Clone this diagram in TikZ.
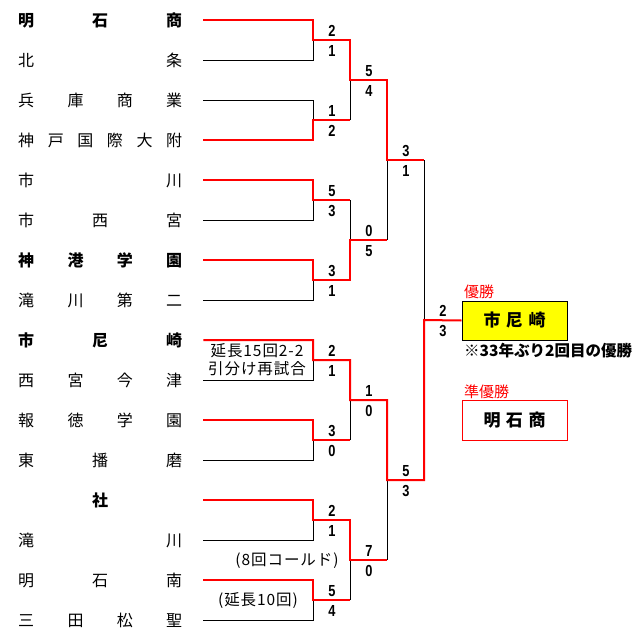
\documentclass[tikz,border=0pt]{standalone}
\usepackage{fontspec}
\setmainfont{Noto Sans CJK JP}
\newfontfamily\scorefont{Liberation Sans}[FakeStretch=0.8]
\usepackage{tikz}
\usetikzlibrary{positioning}
\definecolor{winred}{HTML}{FF0000}
\definecolor{champyellow}{HTML}{FFFF00}
\newcommand{\spread}[1]{\makebox[164pt][s]{#1}}
\newcommand{\boxname}[1]{\makebox[62pt][s]{#1}}
\tikzset{
  team/.style={anchor=west,inner sep=0pt,font=\fontsize{16}{16}\selectfont},
  winteam/.style={team,font=\fontsize{16}{16}\selectfont\bfseries},
  score/.style={inner sep=0pt,font=\scorefont\bfseries\fontsize{16}{16}\selectfont},
  note/.style={inner sep=0pt,align=center,font=\addfontfeature{LetterSpace=6}\fontsize{15.5}{18}\selectfont},
  medal/.style={anchor=west,inner sep=0pt,text=winred,font=\fontsize{15}{15}\selectfont},
  winline/.style={draw=winred,line width=2pt},
  loseline/.style={draw=black,line width=1pt},
  champbox/.style={draw=black,fill=champyellow,line width=1pt,
                   minimum width=105pt,minimum height=39pt,inner sep=0pt,
                   font=\fontsize{17}{17}\selectfont\bfseries},
  runbox/.style={draw=winred,fill=white,line width=1pt,
                 minimum width=105pt,minimum height=40pt,inner sep=0pt,
                 font=\fontsize{17}{17}\selectfont\bfseries}
}

\begin{document}
\begin{tikzpicture}[x=1pt,y=-1pt]
  \useasboundingbox (0,0) rectangle (632,641);

  % teams
  \node[winteam] (n1) at (18,20) {\spread{明\hfill 石\hfill 商}};
  \node[team] (n2) at (18,60) {\spread{北\hfill 条}};
  \node[team] (n3) at (18,100) {\spread{兵\hfill 庫\hfill 商\hfill 業}};
  \node[team] (n4) at (18,140) {\spread{神\hfill 戸\hfill 国\hfill 際\hfill 大\hfill 附}};
  \node[team] (n5) at (18,180) {\spread{市\hfill 川}};
  \node[team] (n6) at (18,220) {\spread{市\hfill 西\hfill 宮}};
  \node[winteam] (n7) at (18,260) {\spread{神\hfill 港\hfill 学\hfill 園}};
  \node[team] (n8) at (18,300) {\spread{滝\hfill 川\hfill 第\hfill 二}};
  \node[winteam] (n9) at (18,340) {\spread{市\hfill 尼\hfill 崎}};
  \node[team] (n10) at (18,380) {\spread{西\hfill 宮\hfill 今\hfill 津}};
  \node[team] (n11) at (18,420) {\spread{報\hfill 徳\hfill 学\hfill 園}};
  \node[team] (n12) at (18,460) {\spread{東\hfill 播\hfill 磨}};
  \node[winteam] (n13) at (18,500) {\makebox[164pt]{社}};
  \node[team] (n14) at (18,540) {\spread{滝\hfill 川}};
  \node[team] (n15) at (18,580) {\spread{明\hfill 石\hfill 南}};
  \node[team] (n16) at (18,620) {\spread{三\hfill 田\hfill 松\hfill 聖}};

  % match points
  \coordinate (m1) at (313,40);
  \coordinate (m2) at (313,120);
  \coordinate (m3) at (313,200);
  \coordinate (m4) at (313,280);
  \coordinate (m5) at (313,360);
  \coordinate (m6) at (313,440);
  \coordinate (m7) at (313,520);
  \coordinate (m8) at (313,600);
  \coordinate (q1) at (350,80);
  \coordinate (q2) at (350,240);
  \coordinate (q3) at (350,400);
  \coordinate (q4) at (350,560);
  \coordinate (s1) at (387,160);
  \coordinate (s2) at (387,480);
  \coordinate (fin) at (424,320);

  % result boxes
  \node[medal] (winlab) at (464,292) {優勝};
  \node[champbox] (champ) at (514.5,320.5) {\boxname{市\hfill 尼\hfill 崎}};
  \node[medal,text=black,font=\fontsize{15.5}{16}\selectfont\bfseries] (remark) at (464,351) {※33年ぶり2回目の優勝};
  \node[medal] (runlab) at (464,392) {準優勝};
  \node[runbox] (runner) at (514.5,420) {\boxname{明\hfill 石\hfill 商}};

  % losers
  \draw[loseline] ([xshift=21pt]n2.east) -| (m1);
  \draw[loseline] ([xshift=21pt]n3.east) -| (m2);
  \draw[loseline] ([xshift=21pt]n6.east) -| (m3);
  \draw[loseline] ([xshift=21pt]n8.east) -| (m4);
  \draw[loseline] ([xshift=21pt]n10.east) -| (m5);
  \draw[loseline] ([xshift=21pt]n12.east) -| (m6);
  \draw[loseline] ([xshift=21pt]n14.east) -| (m7);
  \draw[loseline] ([xshift=21pt]n16.east) -| (m8);
  \draw[loseline] (q1 |- m2) -- (q1);
  \draw[loseline] (q2 |- m3) -- (q2);
  \draw[loseline] (q3 |- m6) -- (q3);
  \draw[loseline] (q4 |- m8) -- (q4);
  \draw[loseline] (s1 |- q2) -- (s1);
  \draw[loseline] (s2 |- q4) -- (s2);
  \draw[loseline] (fin |- s1) -- (fin);

  % winners
  \draw[winline] ([xshift=21pt]n1.east) -| (m1) -- (q1 |- m1) -- (q1) -- (s1 |- q1) -- (s1) -- (fin |- s1);
  \draw[winline] ([xshift=21pt]n4.east) -| (m2) -- (q1 |- m2);
  \draw[winline] ([xshift=21pt]n5.east) -| (m3) -- (q2 |- m3);
  \draw[winline] ([xshift=21pt]n7.east) -| (m4) -- (q2 |- m4) -- (q2) -- (s1 |- q2);
  \draw[winline] ([xshift=21pt]n9.east) -| (m5) -- (q3 |- m5) -- (q3) -- (s2 |- q3) -- (s2) -- (fin |- s2) -- (fin) -- (champ.west);
  \draw[winline] ([xshift=21pt]n11.east) -| (m6) -- (q3 |- m6);
  \draw[winline] ([xshift=21pt]n13.east) -| (m7) -- (q4 |- m7) -- (q4) -- (s2 |- q4);
  \draw[winline] ([xshift=21pt]n15.east) -| (m8) -- (q4 |- m8);

  % scores
  \node[score] (a1) at (332,31) {2};  \node[score] (b1) at (332,51) {1};
  \node[score] (a2) at (332,111) {1}; \node[score] (b2) at (332,131) {2};
  \node[score] (a3) at (332,191) {5}; \node[score] (b3) at (332,211) {3};
  \node[score] (a4) at (332,271) {3}; \node[score] (b4) at (332,291) {1};
  \node[score] (a5) at (332,351) {2}; \node[score] (b5) at (332,371) {1};
  \node[score] (a6) at (332,431) {3}; \node[score] (b6) at (332,451) {0};
  \node[score] (a7) at (332,511) {2}; \node[score] (b7) at (332,531) {1};
  \node[score] (a8) at (332,591) {5}; \node[score] (b8) at (332,611) {4};
  \node[score] (c1) at (369,71) {5};  \node[score] (d1) at (369,91) {4};
  \node[score] (c2) at (369,231) {0}; \node[score] (d2) at (369,251) {5};
  \node[score] (c3) at (369,391) {1}; \node[score] (d3) at (369,411) {0};
  \node[score] (c4) at (369,551) {7}; \node[score] (d4) at (369,571) {0};
  \node[score] (e1) at (406,151) {3}; \node[score] (f1) at (406,171) {1};
  \node[score] (e2) at (406,471) {5}; \node[score] (f2) at (406,491) {3};
  \node[score] (g1) at (443,311) {2}; \node[score] (h1) at (443,331) {3};

  % notes
  \node[note] (replay) at (257,360) {延長15回2-2\\引分け再試合};
  \node[note] (called) at (287,561) {(8回コールド)};
  \node[note] (extra) at (258,601) {(延長10回)};
\end{tikzpicture}
\end{document}
